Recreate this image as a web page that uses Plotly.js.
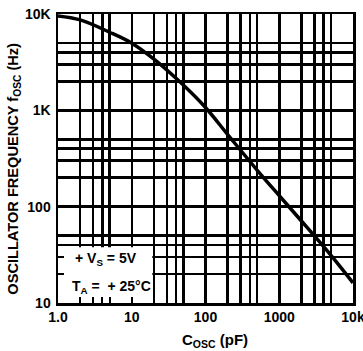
<!DOCTYPE html>
<html>
<head>
<meta charset="utf-8">
<script src="https://cdn.plot.ly/plotly-3.0.1.min.js"></script>
<style>html,body{margin:0;padding:0;background:#fff;}#chart{width:363px;height:351px;}</style>
</head>
<body>
<div id="chart"></div>
<script>
// Oscillator capacitance (pF) and frequency (Hz)
var capacitance = [1, 2, 5, 10, 20, 50, 100, 200, 500, 1000, 2000, 5000, 10000];
var frequency = [9550, 8680, 6470, 4980, 3400, 1830, 1070, 560, 240, 130, 71, 31.4, 16.2];

var xGridVals = [1,2,3,4,5,10,20,30,40,50,100,200,300,400,500,1000,2000,3000,4000,5000,10000];
var xGridText = ['1.0','','','','','10','','','','','100','','','','','1000','','','','','10k'];
var yGridVals = [10,20,30,40,50,100,200,300,400,500,1000,2000,3000,4000,5000,10000];
var yGridText = ['10','','','','','100','','','','','1K','','','','','10K'];

// blank legend panel (lower-left), in data units
var panelX = [1, 19, 19, 1, 1];
var panelY = [10, 10, 38, 38, 10];

var FONT = 'Liberation Sans, Arial, sans-serif';

var panel = {
  x: panelX, y: panelY, type: 'scatter', mode: 'lines',
  fill: 'toself', fillcolor: '#fff', line: {width: 0, color: 'rgba(0,0,0,0)'},
  hoverinfo: 'none'
};

var trace = {
  x: capacitance, y: frequency, type: 'scatter', mode: 'lines',
  line: {color: '#000', width: 3.5, shape: 'spline', smoothing: 1},
  hoverinfo: 'none'
};

var axisCommon = {
  type: 'log',
  tickmode: 'array',
  showgrid: true, gridcolor: '#000', gridwidth: 2.5,
  showline: true, linecolor: '#000', linewidth: 2.5, mirror: true,
  ticks: 'inside', ticklen: 6, tickwidth: 2, tickcolor: '#000',
  ticklabeloverflow: 'allow',
  tickfont: {family: FONT, size: 14, color: '#000', weight: 'bold'},
  zeroline: false, fixedrange: true
};

var layout = {
  width: 363, height: 351,
  margin: {l: 58, r: 10, t: 14, b: 48},
  paper_bgcolor: '#fff', plot_bgcolor: '#fff',
  showlegend: false,
  xaxis: Object.assign({}, axisCommon, {
    range: [0, 4], tickvals: xGridVals, ticktext: xGridText
  }),
  yaxis: Object.assign({}, axisCommon, {
    range: [1, 4], tickvals: yGridVals, ticktext: yGridText, ticklabelstandoff: 2
  }),
  annotations: [
    {text: '<b>OSCILLATOR FREQUENCY f<sub>OSC</sub> (Hz)</b>', xref: 'paper', yref: 'paper',
     x: -0.149, y: 0.465, xanchor: 'center', yanchor: 'middle', textangle: -90, showarrow: false,
     font: {family: FONT, size: 14.6, color: '#000'}},
    {text: '<b>C<sub>OSC</sub> (pF)</b>', xref: 'paper', yref: 'paper',
     x: 0.532, y: -0.13, xanchor: 'center', yanchor: 'middle', showarrow: false,
     font: {family: FONT, size: 15, color: '#000'}},
    {text: '<b>+ V<sub>S</sub> = 5V</b>', xref: 'paper', yref: 'paper',
     x: 0.055, y: 0.152, xanchor: 'left', yanchor: 'middle', showarrow: false,
     bgcolor: '#fff', borderpad: 0,
     font: {family: FONT, size: 14, color: '#000'}},
    {text: '<b>T<sub>A</sub> =  + 25°C</b>', xref: 'paper', yref: 'paper',
     x: 0.045, y: 0.055, xanchor: 'left', yanchor: 'middle', showarrow: false,
     bgcolor: '#fff', borderpad: 0,
     font: {family: FONT, size: 14, color: '#000'}}
  ]
};

Plotly.newPlot('chart', [panel, trace], layout, {displayModeBar: false, staticPlot: true});
</script>
</body>
</html>
